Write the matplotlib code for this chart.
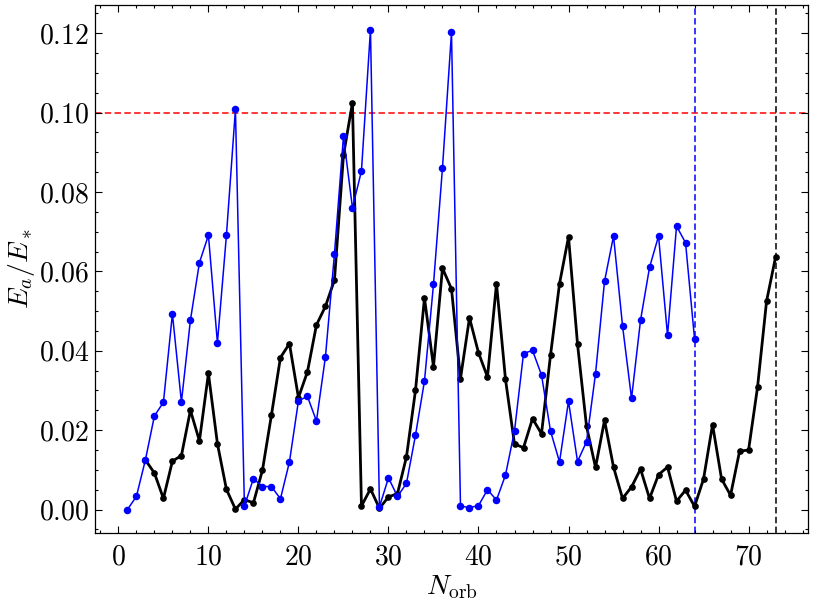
import matplotlib
matplotlib.use('Agg')
import matplotlib.pyplot as plt
from matplotlib.ticker import AutoMinorLocator

# blue series: N_orb = 1..64
n_blue = list(range(1, 65))
e_blue = [0.0000, 0.0033, 0.0125, 0.0236, 0.0270, 0.0493, 0.0271, 0.0477, 0.0622, 0.0691,
          0.0420, 0.0691, 0.1008, 0.0009, 0.0078, 0.0058, 0.0058, 0.0027, 0.0120, 0.0274,
          0.0285, 0.0223, 0.0385, 0.0644, 0.0940, 0.0760, 0.0853, 0.1209, 0.0007, 0.0080,
          0.0033, 0.0066, 0.0187, 0.0324, 0.0567, 0.0861, 0.1202, 0.0009, 0.0005, 0.0010,
          0.0050, 0.0024, 0.0087, 0.0198, 0.0393, 0.0401, 0.0339, 0.0198, 0.0120, 0.0273,
          0.0121, 0.0171, 0.0342, 0.0575, 0.0689, 0.0463, 0.0280, 0.0477, 0.0610, 0.0689,
          0.0439, 0.0714, 0.0672, 0.0430]

# black series: N_orb = 3..73
n_black = list(range(3, 74))
e_black = [0.0125, 0.0092, 0.0028, 0.0122, 0.0136, 0.0250, 0.0173, 0.0343, 0.0166, 0.0051,
           0.0001, 0.0025, 0.0017, 0.0099, 0.0238, 0.0383, 0.0418, 0.0282, 0.0347, 0.0465,
           0.0512, 0.0578, 0.0892, 0.1025, 0.0009, 0.0052, 0.0003, 0.0032, 0.0040, 0.0133,
           0.0300, 0.0533, 0.0360, 0.0608, 0.0556, 0.0330, 0.0483, 0.0395, 0.0334, 0.0569,
           0.0328, 0.0165, 0.0156, 0.0229, 0.0191, 0.0389, 0.0569, 0.0687, 0.0417, 0.0210,
           0.0106, 0.0225, 0.0107, 0.0028, 0.0057, 0.0102, 0.0028, 0.0088, 0.0107, 0.0021,
           0.0049, 0.0008, 0.0077, 0.0214, 0.0077, 0.0036, 0.0147, 0.0150, 0.0309, 0.0525,
           0.0636]

threshold = 0.1
n_max_blue = 64
n_max_black = 73

plt.rcParams.update({
    'font.family': 'serif',
    'font.serif': ['cmr10', 'DejaVu Serif'],
    'mathtext.fontset': 'cm',
    'axes.formatter.use_mathtext': True,
    'font.size': 20,
    'axes.linewidth': 0.9,
})

fig = plt.figure(figsize=(8.14, 6.03), dpi=100)
ax = fig.add_axes([0.1167, 0.1161, 0.8759, 0.8756])

ax.plot(n_black, e_black, '-o', color='black', lw=2.0, ms=3.8, zorder=2)
ax.plot(n_blue, e_blue, '-o', color='blue', lw=1.1, ms=4.4, zorder=3)

# threshold and cut-off lines
ax.axhline(threshold, color='red', ls='--', lw=1.1, dashes=(4.2, 2.2), zorder=1)
ax.axvline(n_max_blue, color='blue', ls='--', lw=1.1, dashes=(4.2, 2.2), zorder=1)
ax.axvline(n_max_black, color='black', ls='--', lw=1.1, dashes=(4.2, 2.2), zorder=1)

ax.set_xlabel(r'$N_{\rm orb}$', labelpad=2)
ax.set_ylabel(r'$E_a/E_*$', labelpad=1)

ax.set_yticks([0.0, 0.02, 0.04, 0.06, 0.08, 0.10, 0.12])
ax.set_ylim(-0.0059, 0.1271)
ax.set_xlim(-2.6, 76.6)
ax.xaxis.set_minor_locator(AutoMinorLocator())
ax.yaxis.set_minor_locator(AutoMinorLocator())
ax.tick_params(which='both', direction='in', top=True, right=True, width=0.8)
ax.tick_params(which='major', length=5)
ax.tick_params(which='minor', length=2.5)
ax.tick_params(axis='x', which='major', pad=8)
ax.tick_params(axis='y', which='major', pad=4)

fig.savefig('out.png', dpi=100)
